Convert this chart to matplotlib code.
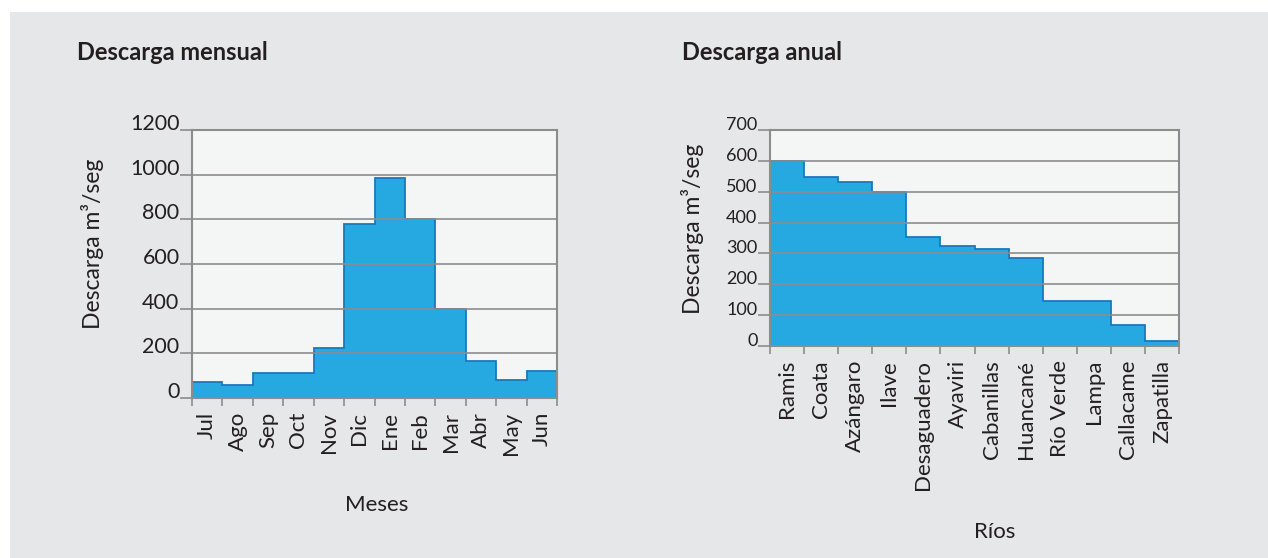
import matplotlib.pyplot as plt
import numpy as np
from matplotlib.patches import Rectangle

# monthly discharge (m3/s)
meses = ['Jul', 'Ago', 'Sep', 'Oct', 'Nov', 'Dic', 'Ene', 'Feb', 'Mar', 'Abr', 'May', 'Jun']
descarga_mensual = [72, 57, 112, 112, 222, 780, 984, 802, 400, 165, 79, 121]

# annual discharge per river (m3/s)
rios = ['Ramis', 'Coata', 'Azángaro', 'Ilave', 'Desaguadero', 'Ayaviri', 'Cabanillas',
        'Huancané', 'Río Verde', 'Lampa', 'Callacame', 'Zapatilla']
descarga_anual = [600, 548, 532, 500, 352, 324, 314, 285, 145, 145, 69, 16]

plt.rcParams['font.family'] = ['Lato', 'DejaVu Sans']

W, H = 1268, 558
BG = '#e6e7e8'
FACE = '#f4f5f5'
BLUE = '#25a9e0'
EDGE = '#1b78bd'
GRID = '#8c8c8c'
TXT = '#231f20'

fig = plt.figure(figsize=(W / 100, H / 100), dpi=100)
fig.patch.set_facecolor('white')
fig.patches.append(Rectangle((10 / W, 0), 1, (H - 12) / H, transform=fig.transFigure,
                             facecolor=BG, edgecolor='none', zorder=-10))


def px_axes(x0, x1, ytop, ybot):
    return fig.add_axes([x0 / W, (H - ybot) / H, (x1 - x0) / W, (ybot - ytop) / H])


def draw_panel(ax, labels, values, ymax, ystep, tick_fs, lab_fs):
    n = len(values)
    edges = np.arange(n + 1)
    ax.set_facecolor(FACE)
    ax.stairs(values, edges, fill=True, facecolor=BLUE, edgecolor='none', zorder=2)
    ax.stairs(values, edges, fill=False, edgecolor=EDGE, linewidth=1.3, zorder=2.5)
    ax.set_xlim(0, n)
    ax.set_ylim(0, ymax)
    yt = np.arange(0, ymax + 1, ystep)
    ax.set_yticks(yt)
    ax.set_yticklabels([str(v) for v in yt], fontsize=tick_fs, color=TXT)
    for lab in ax.get_yticklabels():
        lab.set_verticalalignment('baseline')
    ax.yaxis.set_tick_params(length=9, width=1.2, color=GRID, pad=0)
    for y in yt[1:-1]:
        ax.axhline(y, color=GRID, linewidth=1.2, zorder=3)
    ax.set_xticks(edges)
    ax.set_xticklabels([])
    ax.set_xticks(edges[:-1] + 0.5, minor=True)
    ax.set_xticklabels(labels, minor=True, rotation=90, fontsize=lab_fs, color=TXT)
    ax.xaxis.set_tick_params(which='major', length=6, width=1.2, color=GRID)
    ax.xaxis.set_tick_params(which='minor', length=0, pad=10)
    for s in ax.spines.values():
        s.set_color(GRID)
        s.set_linewidth(1.5)
        s.set_zorder(4)


ax1 = px_axes(192, 557, 130, 398)
draw_panel(ax1, meses, descarga_mensual, 1200, 200, 15.5, 16)

ax2 = px_axes(770, 1179, 130, 346)
draw_panel(ax2, rios, descarga_anual, 700, 100, 13, 16)

fig.text(77 / W, 1 - 52 / H, 'Descarga mensual', fontsize=17, fontweight='bold',
         color=TXT, ha='left', va='center')
fig.text(682 / W, 1 - 52 / H, 'Descarga anual', fontsize=17, fontweight='bold',
         color=TXT, ha='left', va='center')

fig.text(93 / W, 1 - 244 / H, 'Descarga m³/seg', fontsize=16.5, rotation=90,
         color=TXT, ha='center', va='center')
fig.text(692 / W, 1 - 229 / H, 'Descarga m³/seg', fontsize=16.5, rotation=90,
         color=TXT, ha='center', va='center')

fig.text(377 / W, 1 - 505 / H, 'Meses', fontsize=16, color=TXT, ha='center', va='center')
fig.text(995 / W, 1 - 532 / H, 'Ríos', fontsize=16, color=TXT, ha='center', va='center')

fig.savefig('out.png', dpi=100, facecolor='white')
